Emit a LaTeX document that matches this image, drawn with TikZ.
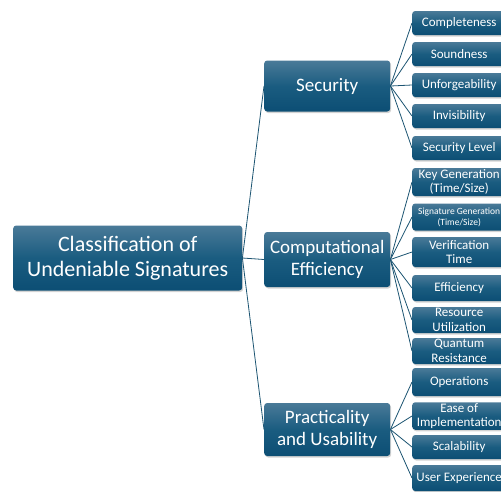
\documentclass[tikz,border=0pt]{standalone}
\usepackage{fontspec}
\setmainfont{Carlito}
\usepackage{tikz}
\usetikzlibrary{positioning,shadows}

\definecolor{boxtop}{RGB}{74,122,152}
\definecolor{boxmid}{RGB}{26,92,128}
\definecolor{boxbot}{RGB}{12,78,116}
\definecolor{edgeblue}{RGB}{28,84,114}

\begin{document}
\begin{tikzpicture}[x=1pt,y=-1pt,
	box/.style={rectangle,rounded corners=3pt,text=white,align=center,inner sep=1pt,
		top color=boxtop,bottom color=boxbot,middle color=boxmid,
		drop shadow={shadow xshift=1pt,shadow yshift=-1.5pt,opacity=0.35}},
	rootbox/.style={box,anchor=west,minimum width=229pt,minimum height=65pt,font=\fontsize{22}{25}\selectfont},
	midbox/.style={box,anchor=west,minimum width=126pt,minimum height=53pt,font=\fontsize{19}{22}\selectfont},
	leafbox/.style={box,anchor=west,minimum width=94pt,minimum height=24pt,font=\fontsize{13}{14.5}\selectfont},
	edge/.style={draw=edgeblue,line width=0.8pt}]

	\useasboundingbox (0,0) rectangle (501,491);

	%root
	\node[rootbox] (c) at (13,258) {Classification of\\Undeniable Signatures};

	%middle nodes
	\node[midbox,minimum height=51pt] (p1) at (264,86) {Security};
	\node[midbox,minimum height=55pt] (p2) at (264,259.5) {Computational\\Efficiency};
	\node[midbox] (p3) at (264,429.5) {Practicality\\and Usability};

	%security leaves
	\node[leafbox] (s1) at (412,23) {Completeness};
	\node[leafbox] (s2) at (412,54) {Soundness};
	\node[leafbox] (s3) at (412,85) {Unforgeability};
	\node[leafbox] (s4) at (412,116) {Invisibility};
	\node[leafbox] (s5) at (412,148) {Security Level};

	%efficiency leaves
	\node[leafbox,minimum height=28pt] (e1) at (412,182) {Key Generation\\(Time/Size)};
	\node[leafbox,minimum height=27pt,font=\fontsize{9.5}{11}\selectfont] (e2) at (412,217) {Signature Generation\\(Time/Size)};
	\node[leafbox,minimum height=30pt] (e3) at (412,252) {Verification\\Time};
	\node[leafbox,minimum height=26pt] (e4) at (412,288) {Efficiency};
	\node[leafbox,minimum height=26pt] (e5) at (412,320) {Resource\\Utilization};
	\node[leafbox,minimum height=26pt] (e6) at (412,351) {Quantum\\Resistance};

	%usability leaves
	\node[leafbox,minimum height=28pt] (u1) at (412,382) {Operations};
	\node[leafbox,minimum height=26pt] (u2) at (412,416) {Ease of\\Implementation};
	\node[leafbox] (u3) at (412,447) {Scalability};
	\node[leafbox,minimum height=26pt] (u4) at (412,478) {User Experience};

	%edges
	\draw[edge] (c.east) -- (p1.west);
	\draw[edge] (c.east) -- (p2.west);
	\draw[edge] (c.east) -- (p3.west);

	\draw[edge] (p1.east) -- (s1.west);
	\draw[edge] (p1.east) -- (s2.west);
	\draw[edge] (p1.east) -- (s3.west);
	\draw[edge] (p1.east) -- (s4.west);
	\draw[edge] (p1.east) -- (s5.west);

	\draw[edge] (p2.east) -- (e1.west);
	\draw[edge] (p2.east) -- (e2.west);
	\draw[edge] (p2.east) -- (e3.west);
	\draw[edge] (p2.east) -- (e4.west);
	\draw[edge] (p2.east) -- (e5.west);
	\draw[edge] (p2.east) -- (e6.west);

	\draw[edge] (p3.east) -- (u1.west);
	\draw[edge] (p3.east) -- (u2.west);
	\draw[edge] (p3.east) -- (u3.west);
	\draw[edge] (p3.east) -- (u4.west);

\end{tikzpicture}
\end{document}
